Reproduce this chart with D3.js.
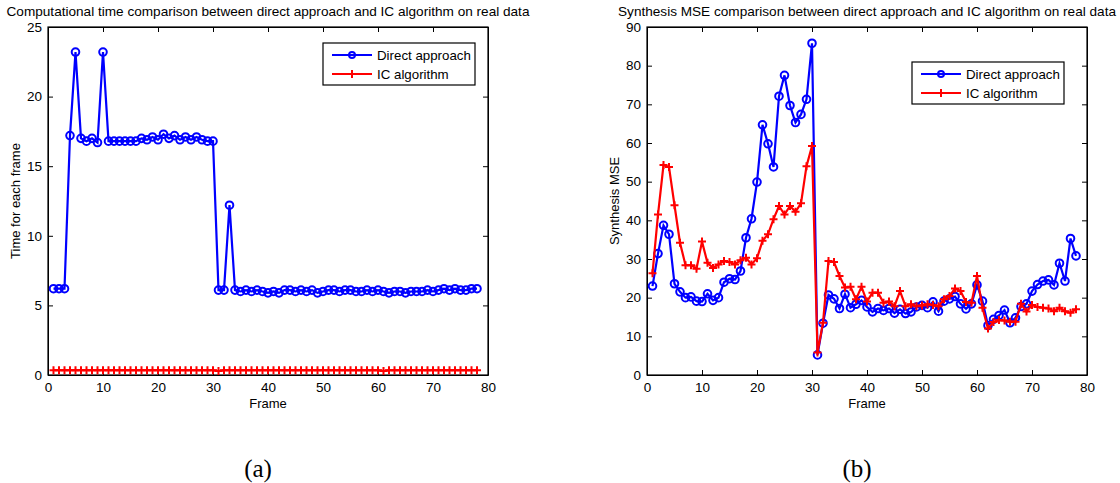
<!DOCTYPE html>
<html>
<head>
<meta charset="utf-8">
<script src="https://cdn.jsdelivr.net/npm/d3@7"></script>
<style>
  body { margin: 0; background: #fff; }
  svg text { font-family: "Liberation Sans", Arial, sans-serif; }
</style>
</head>
<body>
<div id="chart"></div>
<script>
// frames 1..78
const frames = d3.range(1, 79);

// (a) computational time per frame
const timeDirect = [6.2, 6.2, 6.2, 17.2, 23.2, 17.0, 16.8, 17.0, 16.7, 23.2,
  16.8, 16.8, 16.8, 16.8, 16.8, 16.8, 17.0, 16.9, 17.1, 16.9,
  17.3, 17.0, 17.2, 16.9, 17.1, 16.9, 17.1, 16.9, 16.8, 16.8,
  6.1, 6.1, 12.2, 6.1, 6.0, 6.1, 6.0, 6.1, 6.0, 5.9,
  6.0, 5.9, 6.1, 6.1, 6.0, 6.1, 6.0, 6.1, 5.9, 6.0,
  6.1, 6.1, 6.0, 6.1, 6.1, 6.0, 6.0, 6.1, 6.0, 6.1,
  6.0, 5.9, 6.0, 6.0, 5.9, 6.0, 6.0, 6.0, 6.1, 6.0,
  6.1, 6.2, 6.1, 6.2, 6.1, 6.1, 6.2, 6.2];
const timeIC = frames.map(f => (f === 31 || f === 61) ? 0.28 : 0.35);

// (b) synthesis MSE per frame
const mseDirect = [23.0, 31.4, 38.7, 36.4, 23.6, 21.5, 20.0, 20.2, 19.1, 19.0,
  21.0, 19.3, 20.0, 24.0, 24.9, 24.7, 26.9, 35.5, 40.4, 49.9,
  64.7, 59.8, 53.8, 72.1, 77.5, 69.7, 65.3, 67.4, 71.3, 85.8,
  5.2, 13.4, 20.7, 19.7, 17.2, 20.9, 17.4, 18.3, 19.3, 17.6,
  16.3, 17.2, 16.7, 17.2, 16.0, 17.0, 15.9, 16.3, 17.6, 18.0,
  17.4, 18.9, 16.5, 19.1, 19.7, 20.3, 18.4, 17.1, 18.4, 23.3,
  19.1, 12.8, 14.4, 15.4, 16.8, 13.5, 14.8, 17.7, 18.4, 21.7,
  23.4, 24.3, 24.6, 23.3, 28.9, 24.3, 35.3, 30.8];
const mseIC = [26.3, 41.5, 54.3, 53.8, 43.9, 34.2, 28.4, 28.4, 27.5, 34.5,
  29.0, 27.7, 28.6, 29.5, 29.2, 28.6, 29.7, 30.3, 28.6, 30.2,
  34.7, 36.4, 40.3, 43.7, 41.5, 43.7, 42.2, 44.4, 54.0, 59.2,
  5.8, 13.5, 29.5, 29.2, 25.6, 22.6, 22.8, 19.6, 22.8, 19.0,
  21.3, 21.3, 18.7, 19.0, 17.8, 21.7, 17.8, 18.3, 17.8, 18.0,
  18.3, 18.1, 17.8, 19.6, 20.4, 22.4, 21.7, 18.9, 18.7, 25.6,
  17.4, 12.0, 13.7, 14.2, 14.1, 13.8, 13.8, 18.4, 16.4, 18.1,
  17.6, 17.4, 17.2, 16.5, 17.4, 16.5, 16.1, 17.0];

const xTicks = [0, 10, 20, 30, 40, 50, 60, 70, 80];
const seriesNames = ["Direct approach", "IC algorithm"];

const svg = d3.select("#chart").append("svg")
  .attr("width", 1120)
  .attr("height", 483);

function drawPanel(cfg) {
  const x = d3.scaleLinear().domain([0, 80]).range([cfg.left, cfg.right]);
  const y = d3.scaleLinear().domain([0, cfg.yMax]).range([cfg.bottom, cfg.top]);
  const g = svg.append("g");

  // axes box with inward ticks on all sides (matlab style)
  const tl = 5;
  g.append("g").attr("transform", `translate(0,${cfg.bottom})`)
    .call(d3.axisBottom(x).tickValues(xTicks).tickSizeInner(-tl).tickSizeOuter(0).tickPadding(6))
    .call(a => a.selectAll("text").attr("font-size", 13.5).attr("dy", "0.85em"));
  g.append("g").attr("transform", `translate(0,${cfg.top})`)
    .call(d3.axisTop(x).tickValues(xTicks).tickSizeInner(-tl).tickSizeOuter(0).tickFormat(""));
  g.append("g").attr("transform", `translate(${cfg.left},0)`)
    .call(d3.axisLeft(y).tickValues(cfg.yTicks).tickSizeInner(-tl).tickSizeOuter(0).tickPadding(6))
    .call(a => a.selectAll("text").attr("font-size", 13.5));
  g.append("g").attr("transform", `translate(${cfg.right},0)`)
    .call(d3.axisRight(y).tickValues(cfg.yTicks).tickSizeInner(-tl).tickSizeOuter(0).tickFormat(""));
  g.selectAll(".domain").attr("stroke", "#000");
  g.selectAll(".tick line").attr("stroke", "#000");
  g.selectAll(".tick text").attr("fill", "#000").style("font-family", "Liberation Sans, Arial, sans-serif");
  g.append("rect")
    .attr("x", cfg.left).attr("y", cfg.top)
    .attr("width", cfg.right - cfg.left).attr("height", cfg.bottom - cfg.top)
    .attr("fill", "none").attr("stroke", "#000").attr("stroke-width", 1.2);

  const line = d3.line().x((d, i) => x(frames[i])).y(d => y(d));

  // direct first, IC drawn on top
  g.append("path").datum(cfg.direct)
    .attr("d", line).attr("fill", "none").attr("stroke", "#0000ff").attr("stroke-width", 2.2);
  g.selectAll(".circ").data(cfg.direct).enter().append("circle")
    .attr("cx", (d, i) => x(frames[i])).attr("cy", d => y(d)).attr("r", 3.8)
    .attr("fill", "none").attr("stroke", "#0000ff").attr("stroke-width", 2);

  g.append("path").datum(cfg.ic)
    .attr("d", line).attr("fill", "none").attr("stroke", "#ff0000").attr("stroke-width", 2.2);
  g.selectAll(".plus").data(cfg.ic).enter().append("path")
    .attr("d", (d, i) => {
      const cx = x(frames[i]), cy = y(d), s = 4;
      return `M${cx - s},${cy}H${cx + s}M${cx},${cy - s}V${cy + s}`;
    })
    .attr("stroke", "#ff0000").attr("stroke-width", 2);

  // title and labels
  g.append("text")
    .attr("x", (cfg.left + cfg.right) / 2).attr("y", 16)
    .attr("text-anchor", "middle").attr("font-size", 13.6)
    .text(cfg.title);
  g.append("text")
    .attr("x", (cfg.left + cfg.right) / 2).attr("y", 408)
    .attr("text-anchor", "middle").attr("font-size", 13)
    .text("Frame");
  g.append("text")
    .attr("transform", `translate(${cfg.left - 28},${(cfg.top + cfg.bottom) / 2}) rotate(-90)`)
    .attr("text-anchor", "middle").attr("font-size", 13)
    .text(cfg.yLabel);

  // legend
  const lg = g.append("g").attr("transform", `translate(${cfg.legX},${cfg.legY})`);
  lg.append("rect").attr("width", 152).attr("height", 42)
    .attr("fill", "#fff").attr("stroke", "#000").attr("stroke-width", 1.2);
  const colors = ["#0000ff", "#ff0000"];
  seriesNames.forEach((name, i) => {
    const ry = 12 + i * 19;
    lg.append("line").attr("x1", 9).attr("x2", 49).attr("y1", ry).attr("y2", ry)
      .attr("stroke", colors[i]).attr("stroke-width", 2.2);
    if (i === 0) {
      lg.append("circle").attr("cx", 29).attr("cy", ry).attr("r", 3)
        .attr("fill", "none").attr("stroke", colors[i]).attr("stroke-width", 2);
    } else {
      lg.append("path").attr("d", `M29,${ry - 4}V${ry + 4}`)
        .attr("stroke", colors[i]).attr("stroke-width", 2);
    }
    lg.append("text").attr("x", 54).attr("y", ry + 4.5)
      .attr("font-size", 13.3).text(name);
  });

  // caption
  svg.append("text")
    .attr("x", (cfg.left + cfg.right) / 2 - 10).attr("y", 477)
    .attr("text-anchor", "middle")
    .style("font-family", "Liberation Serif, Times New Roman, serif")
    .attr("font-size", 25)
    .text(cfg.caption);
}

drawPanel({
  left: 48, right: 488, top: 27, bottom: 375,
  yMax: 25, yTicks: [0, 5, 10, 15, 20, 25],
  direct: timeDirect, ic: timeIC,
  title: "Computational time comparison between direct approach and IC algorithm on real data",
  yLabel: "Time for each frame",
  legX: 323, legY: 43, caption: "(a)"
});

drawPanel({
  left: 647, right: 1087, top: 27, bottom: 375,
  yMax: 90, yTicks: [0, 10, 20, 30, 40, 50, 60, 70, 80, 90],
  direct: mseDirect, ic: mseIC,
  title: "Synthesis MSE comparison between direct approach and IC algorithm on real data",
  yLabel: "Synthesis MSE",
  legX: 912, legY: 62, caption: "(b)"
});
</script>
</body>
</html>
